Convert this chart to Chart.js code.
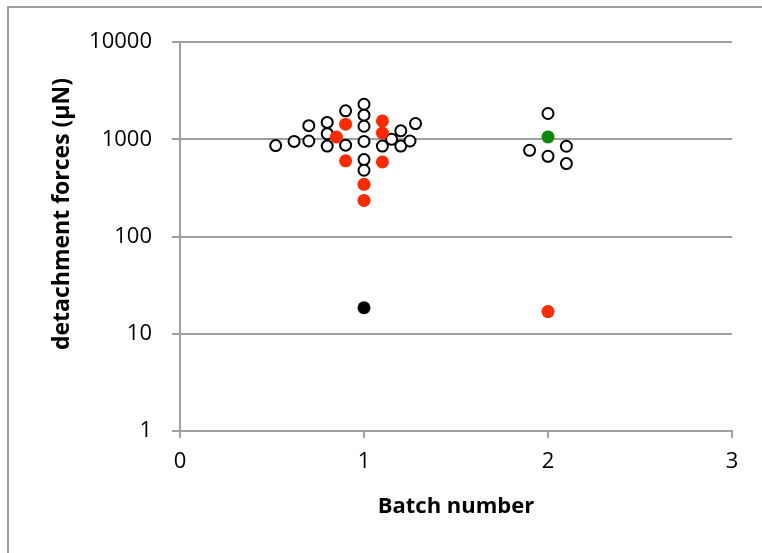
<!DOCTYPE html>
<html>
<head>
<meta charset="utf-8">
<script src="https://cdn.jsdelivr.net/npm/chart.js@4"></script>
<style>
  html, body { margin: 0; padding: 0; background: #fff; }
  #wrap { position: relative; width: 762px; height: 553px; }
  #frame { position: absolute; left: 7px; top: 6px; right: 0; bottom: 0;
           border-left: 2px solid #a0a0a0; border-top: 2px solid #a0a0a0; }
  canvas { position: absolute; left: 0; top: 0; }
</style>
</head>
<body>
<div id="wrap">
  <div id="frame"></div>
  <canvas id="grafico" width="762" height="553"></canvas>
</div>
<script>
// open circles (batch 1 and 2)
const abiertosX = [0.52, 0.62, 0.70, 0.70, 0.80, 0.80, 0.80, 0.90, 0.90, 1.00, 1.00, 1.00, 1.00, 1.00, 1.00, 1.10, 1.15, 1.20, 1.20, 1.25, 1.28, 1.90, 2.00, 2.00, 2.10, 2.10]
const abiertosY = [860, 950, 960, 1380, 1490, 1140, 850, 1960, 870, 2290, 1770, 1360, 950, 618, 480, 850, 1000, 1220, 850, 960, 1450, 770, 1840, 668, 847, 562]
// red filled
const rojosX = [0.85, 0.90, 0.90, 1.10, 1.10, 1.10, 1.00, 1.00, 2.00]
const rojosY = [1055, 1430, 600, 1545, 1160, 585, 344, 235, 16.9]
// black filled
const negrosX = [1.00]
const negrosY = [18.5]
// green filled
const verdesX = [2.00]
const verdesY = [1056]

const ticksX = [0, 1, 2, 3]
const ticksY = [1, 10, 100, 1000, 10000]

const tituloX = "Batch number"
const tituloY = "detachment forces (µN)"

const gris = "#a0a0a0"

function puntos(xs, ys) {
  return xs.map((x, i) => ({ x: x, y: ys[i] }))
}

const tituloYPlugin = {
  id: "tituloY",
  afterDraw(chart) {
    const ctx = chart.ctx
    ctx.save()
    ctx.translate(62, 214)
    ctx.rotate(-Math.PI / 2)
    ctx.font = "bold 23px 'Open Sans'"
    ctx.fillStyle = "#000"
    ctx.textAlign = "center"
    ctx.textBaseline = "middle"
    ctx.fillText(tituloY, 0, 0)
    ctx.restore()
  }
}

const lienzo = document.getElementById("grafico")

new Chart(lienzo, {
  type: "scatter",
  data: {
    datasets: [
      {
        label: "abiertos",
        data: puntos(abiertosX, abiertosY),
        pointRadius: 5.5,
        pointHoverRadius: 5.5,
        borderWidth: 2,
        borderColor: "#000",
        backgroundColor: "#fff",
        order: 4,
      },
      {
        label: "rojos",
        data: puntos(rojosX, rojosY),
        pointRadius: 6.5,
        borderWidth: 0,
        backgroundColor: "#ff2a00",
        borderColor: "#ff2a00",
        order: 1,
      },
      {
        label: "negros",
        data: puntos(negrosX, negrosY),
        pointRadius: 6.5,
        borderWidth: 0,
        backgroundColor: "#000",
        borderColor: "#000",
        order: 2,
      },
      {
        label: "verdes",
        data: puntos(verdesX, verdesY),
        pointRadius: 6.5,
        borderWidth: 0,
        backgroundColor: "#0a8a0a",
        borderColor: "#0a8a0a",
        order: 1,
      },
    ],
  },
  options: {
    responsive: false,
    animation: false,
    layout: { padding: { left: 0, top: 42, right: 30, bottom: 0 } },
    plugins: {
      legend: { display: false },
      tooltip: { enabled: false },
    },
    scales: {
      x: {
        type: "linear",
        min: 0,
        max: 3,
        afterBuildTicks: (scale) => { scale.ticks = ticksX.map(v => ({ value: v })) },
        afterFit: (scale) => { scale.height = 553 - 431 },
        border: { color: gris, width: 2 },
        grid: { drawOnChartArea: false, drawTicks: true, tickLength: 7, color: gris, lineWidth: 2 },
        ticks: { color: "#000", font: { family: "'Open Sans'", size: 22 }, padding: 11, maxRotation: 0 },
        title: {
          display: true,
          text: tituloX,
          color: "#000",
          font: { family: "'Open Sans'", size: 22, weight: "bold" },
          padding: { top: 0, bottom: 33 },
        },
      },
      y: {
        type: "logarithmic",
        min: 1,
        max: 10000,
        afterBuildTicks: (scale) => { scale.ticks = ticksY.map(v => ({ value: v })) },
        afterFit: (scale) => { scale.width = 180 },
        border: { color: gris, width: 2 },
        grid: { drawTicks: true, tickLength: 8, color: gris, lineWidth: 2 },
        ticks: {
          color: "#000",
          font: { family: "'Open Sans'", size: 22 },
          padding: 20,
          callback: (v) => String(v),
        },
      },
    },
  },
  plugins: [tituloYPlugin],
})
</script>
</body>
</html>
